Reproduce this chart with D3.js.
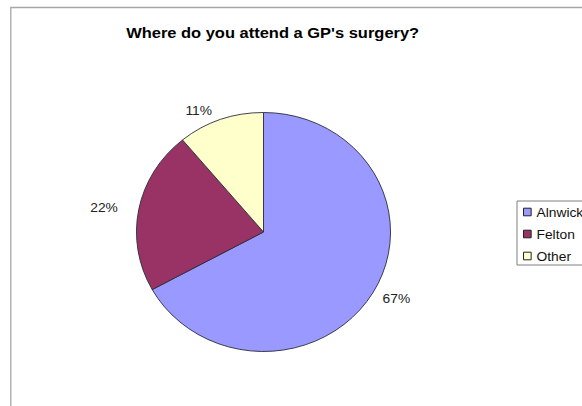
<!DOCTYPE html>
<html><head><meta charset="utf-8">
<script src="https://cdn.jsdelivr.net/npm/d3@7"></script>
<style>body{margin:0;background:#fff;} svg{display:block;}</style>
</head><body>
<script>
const categories = ["Alnwick", "Felton", "Other"];
const values = [67, 22, 11];
const labels = ["67%", "22%", "11%"];
const colors = ["#9999FF", "#993366", "#FFFFCC"];
const title = "Where do you attend a GP's surgery?";

const W = 582, H = 406, SX = 1.063;
const svg = d3.select("body").append("svg").attr("width", W).attr("height", H);
const g = svg.append("g").attr("transform", `scale(${SX},1)`);
const font = "'Liberation Sans', Arial, sans-serif";

// chart area border
g.append("path").attr("d", `M${10.8/SX},${H} V7.5 H${W/SX}`)
  .attr("fill", "none").attr("stroke", "#a6a6a6").attr("stroke-width", 1.3)
  .attr("vector-effect", "non-scaling-stroke");

g.append("text").attr("x", 256.5).attr("y", 38).attr("text-anchor", "middle")
  .attr("font-family", font).attr("font-weight", "bold").attr("font-size", 15.5)
  .attr("fill", "#000").text(title);

const cx = 263.5 / SX, cy = 232, R = 119.5;
const pie = d3.pie().sort(null)(values);
const arc = d3.arc().innerRadius(0).outerRadius(R);
const pg = g.append("g").attr("transform", `translate(${cx},${cy})`);
pg.selectAll("path").data(pie).join("path")
  .attr("d", arc).attr("fill", (d, i) => colors[i])
  .attr("stroke", "#2b2b3a").attr("stroke-width", 0.9)
  .attr("vector-effect", "non-scaling-stroke");

const fs = 13;
pg.selectAll("text.lbl").data(pie).join("text").attr("class", "lbl")
  .each(function(d, i) {
    const a = (d.startAngle + d.endAngle) / 2;
    const dx = Math.sin(a), dy = -Math.cos(a);
    const t = d3.select(this).text(labels[i]);
    const pad = dx < 0 ? 20 : 10;
    const x = (dx * (R * SX + pad) + Math.sign(dx) * 15) / SX;
    const y = dy * (R + 4) + dy * 6;
    t.attr("x", x).attr("y", y).attr("dy", "0.36em");
  })
  .attr("text-anchor", "middle").attr("font-family", font)
  .attr("font-size", fs).attr("fill", "#222");

// legend
const lx = 517 / SX, ly = 201;
g.append("rect").attr("x", lx).attr("y", ly).attr("width", 120).attr("height", 64)
  .attr("fill", "#fff").attr("stroke", "#7f7f7f").attr("stroke-width", 1)
  .attr("vector-effect", "non-scaling-stroke");
const lg = g.selectAll("g.leg").data(categories).join("g").attr("class", "leg")
  .attr("transform", (d, i) => `translate(${523.5 / SX},${212 + i * 22})`);
lg.append("rect").attr("x", 0).attr("y", -3.8).attr("width", 7.2).attr("height", 7.6)
  .attr("fill", (d, i) => colors[i]).attr("stroke", "#222").attr("stroke-width", 1)
  .attr("vector-effect", "non-scaling-stroke");
lg.append("text").attr("x", 12.2).attr("y", 0).attr("dy", "0.36em")
  .attr("font-family", font).attr("font-size", 13).attr("fill", "#111").text(d => d);
</script>
</body></html>
